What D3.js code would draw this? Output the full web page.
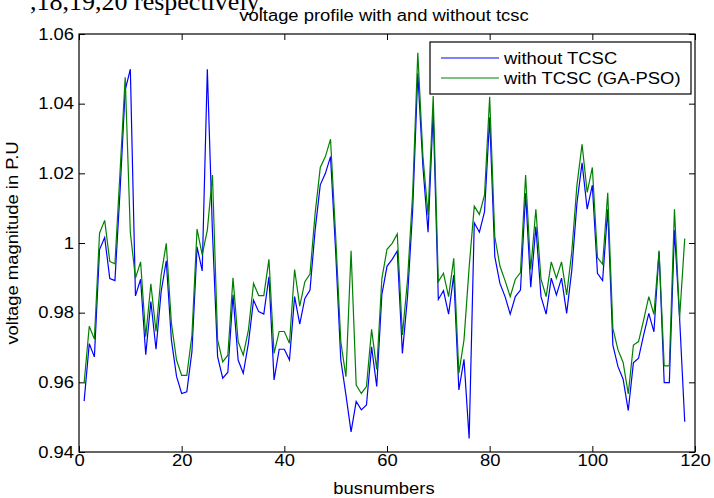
<!DOCTYPE html>
<html><head><meta charset="utf-8">
<script src="https://cdn.jsdelivr.net/npm/d3@7"></script>
<style>html,body{margin:0;padding:0;background:#fff;} svg{display:block;}</style>
</head><body>
<svg id="chart" width="714" height="498"></svg>
<script>
const busNumbers = [1,2,3,4,5,6,7,8,9,10,11,12,13,14,15,16,17,18,19,20,21,22,23,24,25,26,27,28,29,30,31,32,33,34,35,36,37,38,39,40,41,42,43,44,45,46,47,48,49,50,51,52,53,54,55,56,57,58,59,60,61,62,63,64,65,66,67,68,69,70,71,72,73,74,75,76,77,78,79,80,81,82,83,84,85,86,87,88,89,90,91,92,93,94,95,96,97,98,99,100,101,102,103,104,105,106,107,108,109,110,111,112,113,114,115,116,117,118];
const withoutTCSC = [
0.9546,0.9711,0.9673,0.9981,1.0016,0.9898,0.9892,1.0150,1.0439,1.0499,
0.9848,0.9896,0.9679,0.9832,0.9695,0.9860,0.9949,0.9722,0.9617,0.9568,
0.9573,0.9688,0.9989,0.9920,1.0499,1.0030,0.9674,0.9612,0.9629,0.9851,
0.9664,0.9626,0.9712,0.9836,0.9803,0.9796,0.9903,0.9607,0.9695,0.9695,
0.9664,0.9846,0.9767,0.9841,0.9865,1.0037,1.0167,1.0200,1.0248,0.9975,
0.9664,0.9564,0.9458,0.9545,0.9521,0.9535,0.9702,0.9588,0.9852,0.9933,
0.9953,0.9977,0.9683,0.9846,1.0095,1.0487,1.0219,1.0031,1.0377,0.9838,
0.9863,0.9796,0.9908,0.9578,0.9666,0.9439,1.0058,1.0031,1.0090,1.0360,
0.9961,0.9884,0.9846,0.9796,0.9846,0.9865,1.0143,0.9873,1.0047,0.9846,
0.9796,0.9899,0.9851,0.9899,0.9798,0.9922,1.0114,1.0230,1.0097,1.0166,
0.9913,0.9892,1.0097,0.9707,0.9645,0.9609,0.9519,0.9656,0.9669,0.9736,
0.9798,0.9745,0.9975,0.9599,0.9599,1.0037,0.9784,0.9487];
const withTCSC = [
0.9598,0.9761,0.9724,1.0028,1.0065,0.9947,0.9940,1.0205,1.0476,1.0030,
0.9899,0.9946,0.9731,0.9883,0.9746,0.9908,0.9999,0.9770,0.9664,0.9620,
0.9620,0.9735,1.0040,0.9966,1.0037,1.0195,0.9722,0.9659,0.9678,0.9900,
0.9717,0.9678,0.9750,0.9884,0.9849,0.9849,0.9953,0.9683,0.9746,0.9746,
0.9712,0.9924,0.9819,0.9889,0.9911,1.0085,1.0217,1.0248,1.0298,1.0020,
0.9717,0.9616,0.9978,0.9592,0.9568,0.9588,0.9752,0.9637,0.9898,0.9982,
0.9999,1.0026,0.9736,0.9894,1.0143,1.0546,1.0248,1.0080,1.0422,0.9889,
0.9913,0.9846,0.9956,0.9626,0.9722,0.9930,1.0106,1.0082,1.0138,1.0420,
1.0018,0.9934,0.9892,0.9846,0.9896,0.9915,1.0195,0.9923,1.0097,0.9896,
0.9846,0.9946,0.9899,0.9946,0.9851,0.9975,1.0166,1.0283,1.0145,1.0217,
0.9958,0.9939,1.0144,0.9755,0.9693,0.9657,0.9567,0.9707,0.9717,0.9779,
0.9846,0.9795,0.9978,0.9647,0.9647,1.0097,0.9784,1.0013];
const xTicks = [0,20,40,60,80,100,120];
const yTicks = [0.94,0.96,0.98,1.00,1.02,1.04,1.06];
const yTickLabels = ["0.94","0.96","0.98","1","1.02","1.04","1.06"];
const seriesNames = ["without TCSC","with TCSC (GA-PSO)"];
const seriesColors = ["#0000ff","#008000"];
const titleText = "voltage profile with and without tcsc";
const xLabelText = "busnumbers";
const yLabelText = "voltage magnitude in P.U";
const headerText = ",18,19,20 respectively.";

const W = 714, H = 498;
const m = {left: 79, right: 19, top: 34, bottom: 46};
const iw = W - m.left - m.right, ih = H - m.top - m.bottom;
const FONT = "'Liberation Sans', Arial, Helvetica, sans-serif";
const FS = 16, STRETCH = 1.15;

const svg = d3.select("#chart");
svg.append("rect").attr("width", W).attr("height", H).attr("fill", "#fff");

const x = d3.scaleLinear().domain([0, 120]).range([m.left, m.left + iw]);
const y = d3.scaleLinear().domain([0.94, 1.06]).range([m.top + ih, m.top]);

// header text from surrounding document (cut off at top)
svg.append("text").attr("x", 30).attr("y", 10)
  .attr("font-family", "'Liberation Serif', 'Times New Roman', serif")
  .attr("font-size", 26).attr("fill", "#000").text(headerText);

// title
svg.append("text").attr("class", "st").attr("x", 384).attr("y", 21)
  .attr("text-anchor", "middle").attr("font-family", FONT).attr("font-size", FS)
  .attr("fill", "#000").text(titleText);

const fmtY = d => yTickLabels[yTicks.findIndex(t => Math.abs(t - d) < 1e-9)];

const gx = svg.append("g").attr("transform", `translate(0,${m.top + ih})`)
  .call(d3.axisBottom(x).tickValues(xTicks).tickSizeInner(-6).tickSizeOuter(0).tickPadding(3).tickFormat(d3.format("d")));
const gxt = svg.append("g").attr("transform", `translate(0,${m.top})`)
  .call(d3.axisTop(x).tickValues(xTicks).tickSizeInner(-6).tickSizeOuter(0).tickFormat(""));
const gy = svg.append("g").attr("transform", `translate(${m.left},0)`)
  .call(d3.axisLeft(y).tickValues(yTicks).tickSizeInner(-6).tickSizeOuter(0).tickPadding(5).tickFormat(fmtY));
const gyr = svg.append("g").attr("transform", `translate(${m.left + iw},0)`)
  .call(d3.axisRight(y).tickValues(yTicks).tickSizeInner(-6).tickSizeOuter(0).tickFormat(""));

[gx, gxt, gy, gyr].forEach(g => {
  g.selectAll(".domain").remove();
  g.selectAll("line").attr("stroke", "#000").attr("stroke-width", 1);
  g.selectAll("text").attr("class", "st").attr("font-family", FONT).attr("font-size", FS).attr("fill", "#000");
});

// lines
const line = d3.line().x((d, i) => x(busNumbers[i])).y(d => y(d));
[withoutTCSC, withTCSC].forEach((s, k) => {
  svg.append("path").datum(s).attr("d", line).attr("fill", "none")
    .attr("stroke", seriesColors[k]).attr("stroke-width", 1.2).attr("stroke-linejoin", "miter");
});

// frame
svg.append("rect").attr("x", m.left).attr("y", m.top).attr("width", iw).attr("height", ih)
  .attr("fill", "none").attr("stroke", "#000").attr("stroke-width", 1.2);

// axis labels
svg.append("text").attr("class", "st").attr("x", 384).attr("y", 494).attr("text-anchor", "middle")
  .attr("font-family", FONT).attr("font-size", FS).attr("fill", "#000").text(xLabelText);
svg.append("text").attr("class", "st").attr("transform", `translate(18,${m.top + ih / 2}) rotate(-90)`)
  .attr("text-anchor", "middle").attr("font-family", FONT).attr("font-size", FS)
  .attr("fill", "#000").text(yLabelText);

// legend
const lg = svg.append("g");
lg.append("rect").attr("x", 430).attr("y", 42).attr("width", 261).attr("height", 52)
  .attr("fill", "#fff").attr("stroke", "#000").attr("stroke-width", 1.2);
seriesNames.forEach((n, k) => {
  const ly = 58 + k * 20;
  lg.append("line").attr("x1", 441).attr("x2", 499).attr("y1", ly).attr("y2", ly)
    .attr("stroke", seriesColors[k]).attr("stroke-width", 1.2);
  lg.append("text").attr("class", "st").attr("x", 504).attr("y", ly + 6).attr("font-family", FONT)
    .attr("font-size", FS).attr("fill", "#000").text(n);
});

// horizontal stretch of the sans-serif texts (reference glyphs are wide)
svg.selectAll("text.st").each(function () {
  const len = this.getComputedTextLength();
  d3.select(this).attr("textLength", len * STRETCH).attr("lengthAdjust", "spacingAndGlyphs");
});
</script>
</body></html>
